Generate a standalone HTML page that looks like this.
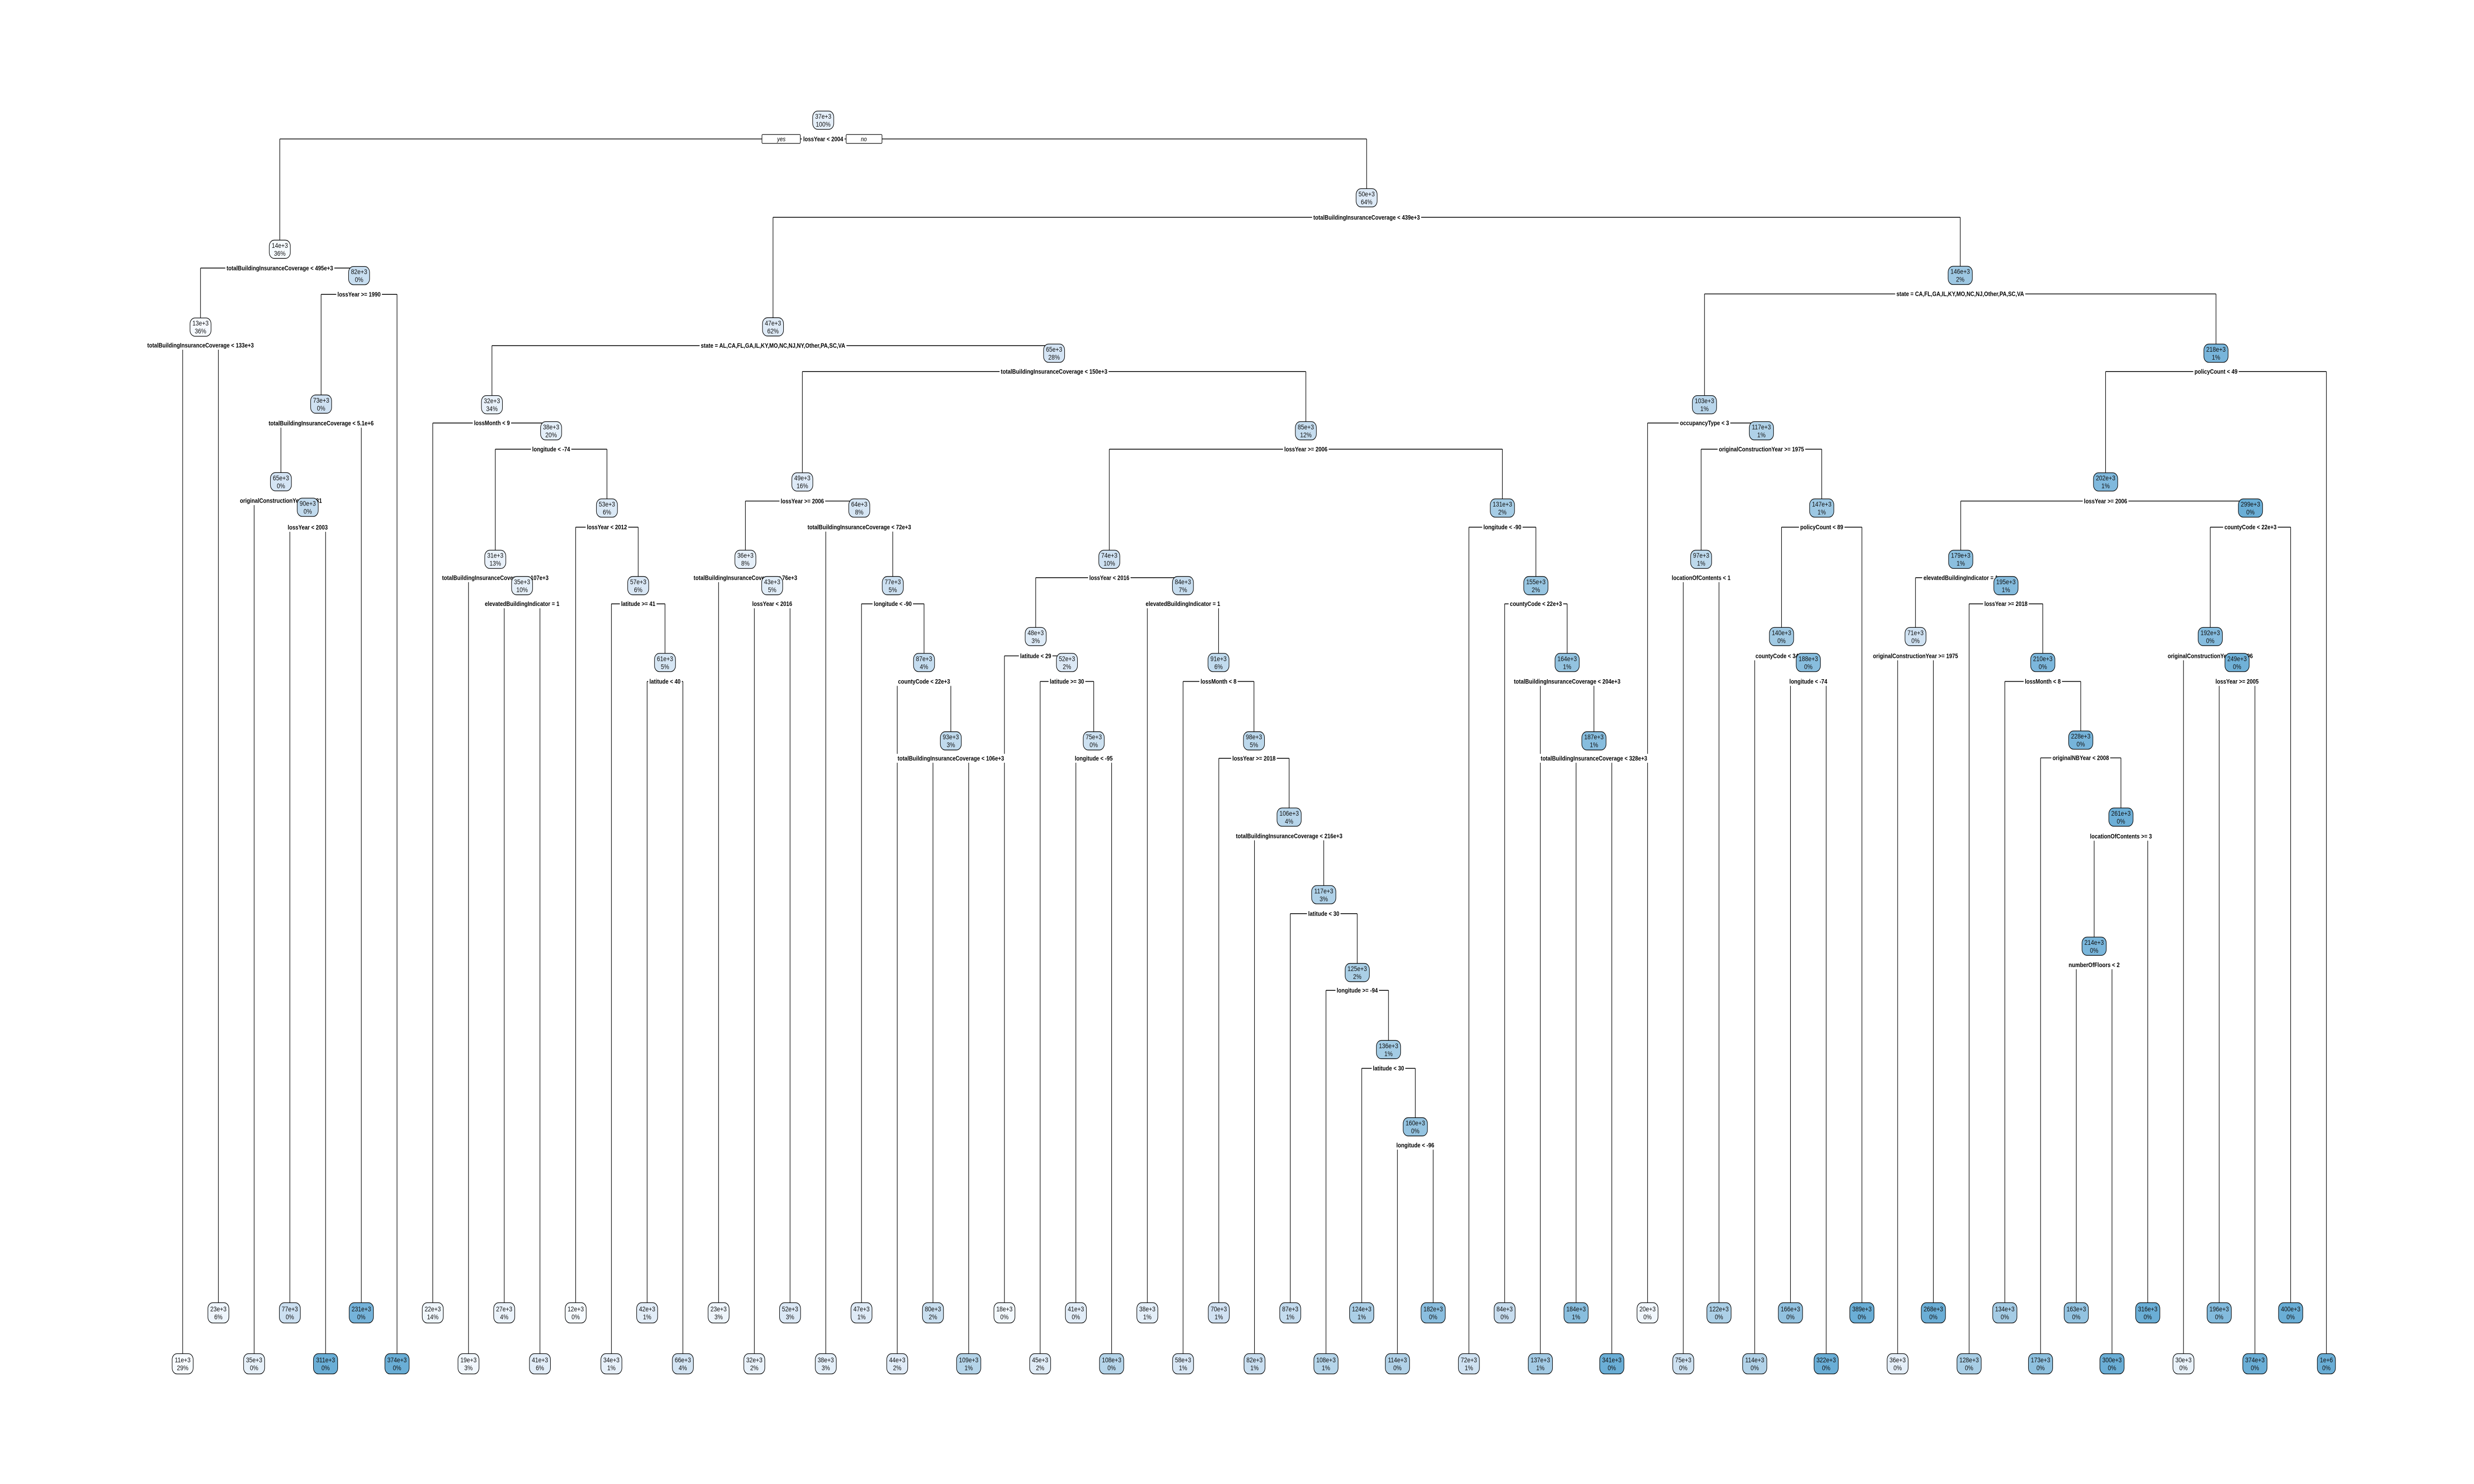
<!DOCTYPE html>
<html><head><meta charset="utf-8"><title>Regression tree</title>
<style>
html,body{margin:0;padding:0;background:#fff;width:100%;height:100%;overflow:hidden;}
svg{display:block;width:100vw;height:100vh;}
.nt{font-family:"Liberation Sans",Arial,sans-serif;font-size:14px;fill:#111;}
.st{font-family:"Liberation Sans",Arial,sans-serif;font-size:13px;font-weight:bold;fill:#000;}
.yn{font-family:"Liberation Sans",Arial,sans-serif;font-size:13px;font-style:italic;fill:#000;}
</style></head>
<body>
<svg id="tree" xmlns="http://www.w3.org/2000/svg" viewBox="0 0 6000 3000" preserveAspectRatio="none">
<rect x="0" y="0" width="6000" height="3000" fill="#fff"/>
<g id="edges"></g>
<g id="labels"></g>
<g id="nodes"></g>
</svg>
<script>
// Preorder node data (null split = leaf)
const nodeVals = ["37e+3","14e+3","13e+3","11e+3","23e+3","82e+3","73e+3","65e+3","35e+3","90e+3","77e+3","311e+3","231e+3","374e+3",
"50e+3","47e+3","32e+3","22e+3","38e+3","31e+3","19e+3","35e+3","27e+3","41e+3","53e+3","12e+3","57e+3","34e+3","61e+3","42e+3","66e+3",
"65e+3","49e+3","36e+3","23e+3","43e+3","32e+3","52e+3","64e+3","38e+3","77e+3","47e+3","87e+3","44e+3","93e+3","80e+3","109e+3",
"85e+3","74e+3","48e+3","18e+3","52e+3","45e+3","75e+3","41e+3","108e+3","84e+3","38e+3","91e+3","58e+3","98e+3","70e+3","106e+3","82e+3",
"117e+3","87e+3","125e+3","108e+3","136e+3","124e+3","160e+3","114e+3","182e+3","131e+3","72e+3","155e+3","84e+3","164e+3","137e+3","187e+3","184e+3","341e+3",
"146e+3","103e+3","20e+3","117e+3","97e+3","75e+3","122e+3","147e+3","140e+3","114e+3","188e+3","166e+3","322e+3","389e+3",
"218e+3","202e+3","179e+3","71e+3","36e+3","268e+3","195e+3","128e+3","210e+3","134e+3","228e+3","173e+3","261e+3","214e+3","163e+3","300e+3","316e+3",
"299e+3","192e+3","30e+3","249e+3","196e+3","374e+3","400e+3","1e+6"];
const nodePcts = ["100%","36%","36%","29%","6%","0%","0%","0%","0%","0%","0%","0%","0%","0%",
"64%","62%","34%","14%","20%","13%","3%","10%","4%","6%","6%","0%","6%","1%","5%","1%","4%",
"28%","16%","8%","3%","5%","2%","3%","8%","3%","5%","1%","4%","2%","3%","2%","1%",
"12%","10%","3%","0%","2%","2%","0%","0%","0%","7%","1%","6%","1%","5%","1%","4%","1%",
"3%","1%","2%","1%","1%","1%","0%","0%","0%","2%","1%","2%","0%","1%","1%","1%","1%","0%",
"2%","1%","0%","1%","1%","0%","0%","1%","0%","0%","0%","0%","0%","0%",
"1%","1%","1%","0%","0%","0%","1%","0%","0%","0%","0%","0%","0%","0%","0%","0%","0%",
"0%","0%","0%","0%","0%","0%","0%","0%"];
const TB="totalBuildingInsuranceCoverage";
const nodeSplits = ["lossYear < 2004",TB+" < 495e+3",TB+" < 133e+3",null,null,"lossYear >= 1990",TB+" < 5.1e+6","originalConstructionYear < 1981",null,"lossYear < 2003",null,null,null,null,
TB+" < 439e+3","state = AL,CA,FL,GA,IL,KY,MO,NC,NJ,NY,Other,PA,SC,VA","lossMonth < 9",null,"longitude < -74",TB+" < 107e+3",null,"elevatedBuildingIndicator = 1",null,null,"lossYear < 2012",null,"latitude >= 41",null,"latitude < 40",null,null,
TB+" < 150e+3","lossYear >= 2006",TB+" < 76e+3",null,"lossYear < 2016",null,null,TB+" < 72e+3",null,"longitude < -90",null,"countyCode < 22e+3",null,TB+" < 106e+3",null,null,
"lossYear >= 2006","lossYear < 2016","latitude < 29",null,"latitude >= 30",null,"longitude < -95",null,null,"elevatedBuildingIndicator = 1",null,"lossMonth < 8",null,"lossYear >= 2018",null,TB+" < 216e+3",null,
"latitude < 30",null,"longitude >= -94",null,"latitude < 30",null,"longitude < -96",null,null,"longitude < -90",null,"countyCode < 22e+3",null,TB+" < 204e+3",null,TB+" < 328e+3",null,null,
"state = CA,FL,GA,IL,KY,MO,NC,NJ,Other,PA,SC,VA","occupancyType < 3",null,"originalConstructionYear >= 1975","locationOfContents < 1",null,null,"policyCount < 89","countyCode < 34e+3",null,"longitude < -74",null,null,null,
"policyCount < 49","lossYear >= 2006","elevatedBuildingIndicator = 1","originalConstructionYear >= 1975",null,null,"lossYear >= 2018",null,"lossMonth < 8",null,"originalNBYear < 2008",null,"locationOfContents >= 3","numberOfFloors < 2",null,null,null,
"countyCode < 22e+3","originalConstructionYear >= 1996",null,"lossYear >= 2005",null,null,null,null];
const nodeLevel = [63.5,131.7,172.8,0,0,145.6,213.5,254.5,0,268,0,0,0,0,
104.5,172.7,213.8,0,227.6,295.5,0,309.4,0,0,268.4,0,309.4,0,350,0,0,
186.6,254.6,295.5,0,309.4,0,0,268.4,0,309.4,0,350,0,391.4,0,0,
227.6,295.5,336.3,0,350,0,391.4,0,0,309.4,0,350,0,391.4,0,431.7,0,
472.7,0,513.8,0,554.5,0,595.3,0,0,268.4,0,309.4,0,350,0,391.4,0,0,
145.5,213.8,0,227.6,295.5,0,0,268.4,336.3,0,350,0,0,0,
186.6,254.6,295.5,336.3,0,0,309.4,0,350,0,391,0,431.7,499.9,0,0,0,
268.4,336.3,0,350,0,0,0,0];
const splitLevel = [73.4,141.6,182.4,0,0,155.5,223.6,264.5,0,278.6,0,0,0,0,
114.8,182.6,223.5,0,237.3,305.2,0,319,0,0,278.5,0,319,0,360,0,0,
196.3,264.7,305.2,0,319,0,0,278.5,0,319,0,360,0,400.6,0,0,
237.3,305.2,346.5,0,360,0,400.6,0,0,319,0,360,0,400.6,0,441.6,0,
482.7,0,523.2,0,564.4,0,605,0,0,278.5,0,319,0,360,0,400.6,0,0,
155.3,223.5,0,237.3,305.2,0,0,278.5,346.5,0,360,0,0,0,
196.3,264.7,305.2,346.5,0,0,319,0,360,0,400.4,0,441.8,509.7,0,0,0,
278.5,346.5,0,360,0,0,0,0];

const S = 3.8265, LEAF_X0 = 443, LEAF_DX = 86.65, LEAF_Y = [2757, 2654];
const NS = "http://www.w3.org/2000/svg";
const gE = document.getElementById('edges'), gL = document.getElementById('labels'), gN = document.getElementById('nodes');
function mk(tag, attrs, parent){ const e=document.createElementNS(NS,tag); for(const k in attrs) e.setAttribute(k,attrs[k]); parent.appendChild(e); return e; }

function colorFor(v){
  const stops=[[0,[247,251,255]],[0.08,[232,241,250]],[0.22,[210,227,243]],[0.4,[176,210,232]],[0.6,[145,194,224]],[0.8,[120,181,219]],[1,[106,174,214]]];
  let t=Math.max(0,Math.min(1,(v-11000)/260000));
  for(let i=1;i<stops.length;i++){ if(t<=stops[i][0]){ const a=stops[i-1],b=stops[i]; const f=(t-a[0])/(b[0]-a[0]); const c=a[1].map((x,j)=>Math.round(x+(b[1][j]-x)*f)); return `rgb(${c[0]},${c[1]},${c[2]})`; } }
  return 'rgb(106,174,214)';
}

let pos=0, leafCount=0;
const nodes=[];
function build(){
  const i=pos++;
  const n={i, split:nodeSplits[i]};
  if(n.split===null){ n.leaf=true; n.li=leafCount++; n.x=LEAF_X0+n.li*LEAF_DX; n.y=LEAF_Y[n.li%2]; n.h=41; }
  else { n.l=build(); n.r=build(); n.x=(n.l.x+n.r.x)/2; n.y=nodeLevel[i]*S; n.sy=splitLevel[i]*S; n.h=37; }
  nodes.push(n); return n;
}
const root=build();

function drawEdges(n){
  if(n.leaf) return;
  const h=mk('line',{x1:n.l.x,y1:n.sy,x2:n.r.x,y2:n.sy,stroke:'#000','stroke-width':1.6},gE);
  
  
  [n.l,n.r].forEach(c=>{
    const v=mk('line',{x1:c.x,y1:n.sy,x2:c.x,y2:c.y-c.h/2,stroke:'#000','stroke-width':1.4},gE);
    
    
  });
  const t=mk('text',{x:n.x,y:n.sy+4.5,'text-anchor':'middle',class:'st'},gL);
  t.textContent=n.split;
  let w=n.split.length*7.2; try{ const cw=t.getComputedTextLength(); if(cw>0) w=cw; }catch(e){}
  const bg=document.createElementNS(NS,'rect');
  bg.setAttribute('x',n.x-w/2-3); bg.setAttribute('y',n.sy-9); bg.setAttribute('width',w+6); bg.setAttribute('height',18); bg.setAttribute('fill','#fff');
  
  
  gL.insertBefore(bg,t);
  
  
  if(n.i===0){
    const yb=mk('rect',{x:n.x-w/2-100,y:n.sy-9,width:93,height:18,fill:'#fff',stroke:'#000','stroke-width':1.3,rx:2},gL);
    
    
    const yt=mk('text',{x:n.x-w/2-53,y:n.sy+4.5,'text-anchor':'middle',class:'yn'},gL); yt.textContent='yes';
    
    
    const nb=mk('rect',{x:n.x+w/2+7,y:n.sy-9,width:87,height:18,fill:'#fff',stroke:'#000','stroke-width':1.3,rx:2},gL);
    
    
    const nt=mk('text',{x:n.x+w/2+50,y:n.sy+4.5,'text-anchor':'middle',class:'yn'},gL); nt.textContent='no';
    
    
  }
  drawEdges(n.l); drawEdges(n.r);
}
drawEdges(root);

nodes.sort((a,b)=>a.i-b.i).forEach(n=>{
  const val=nodeVals[n.i], pct=nodePcts[n.i];
  const w=Math.max(44, val.length*7.8+12), h=n.h;
  const g=mk('g',{},gN);
  
  
  const r=mk('rect',{x:n.x-w/2,y:n.y-h/2,width:w,height:h,rx:12,ry:12,fill:colorFor(parseFloat(val)),stroke:'#000','stroke-width':1.3},g);
  
  
  const t1=mk('text',{x:n.x,y:n.y-3,'text-anchor':'middle',class:'nt'},g); t1.textContent=val;
  
  
  const t2=mk('text',{x:n.x,y:n.y+13,'text-anchor':'middle',class:'nt'},g); t2.textContent=pct;
  
  
});
</script>
</body></html>
